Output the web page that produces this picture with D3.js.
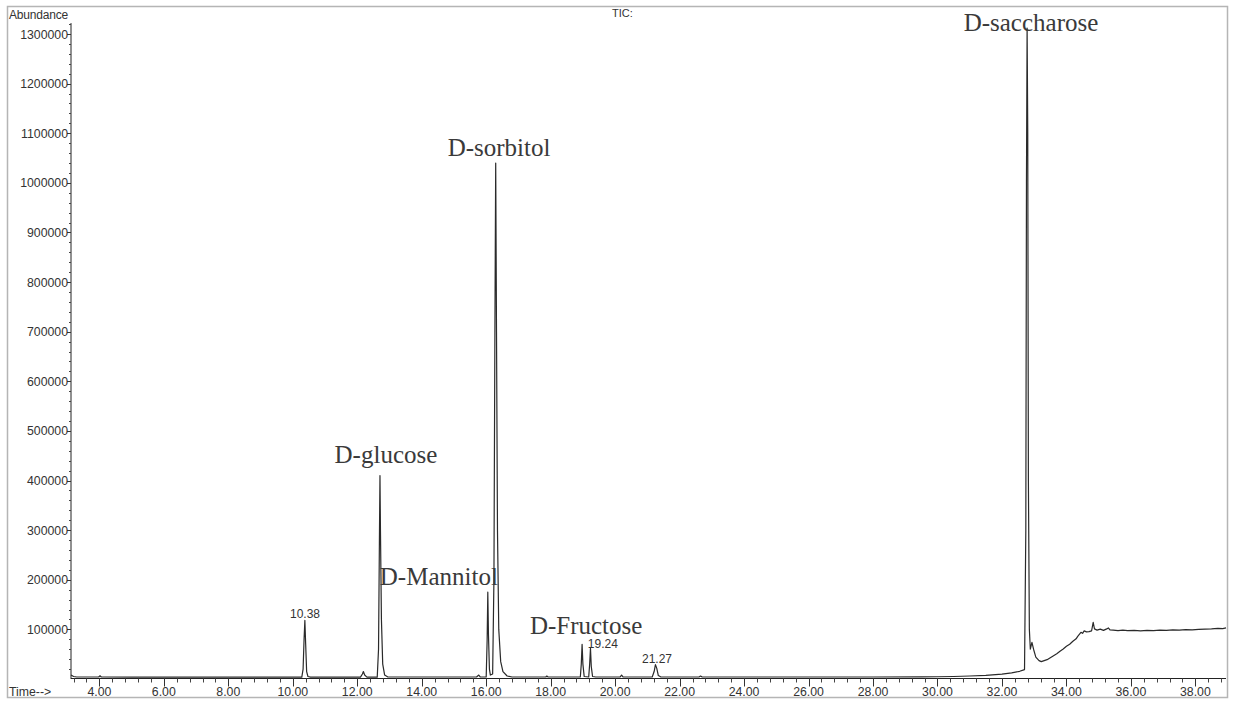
<!DOCTYPE html>
<html>
<head>
<meta charset="utf-8">
<script src="https://cdn.jsdelivr.net/npm/d3@7"></script>
<style>
  html, body { margin: 0; padding: 0; background: #fff; }
  svg { display: block; }
</style>
</head>
<body>
<svg id="chart" width="1235" height="702"></svg>
<script>
// ---- data ----
const times = [
  3.12, 3.2, 3.3, 3.6, 3.98, 4.02, 4.06, 5.0, 6.0, 7.0, 8.0, 9.0, 10.0,
  10.28, 10.32, 10.35, 10.375, 10.40, 10.43, 10.47, 10.55,
  11.5, 12.10, 12.16, 12.19, 12.23, 12.30,
  12.62, 12.66, 12.69, 12.705, 12.72, 12.75, 12.79, 12.85, 12.95,
  14.0, 15.0, 15.70, 15.77, 15.82, 16.00,
  16.03, 16.05, 16.07, 16.10, 16.13, 16.20,
  16.24, 16.27, 16.295, 16.32, 16.35, 16.39, 16.45, 16.52, 16.65, 16.80,
  17.85, 17.88, 17.92,
  18.92, 18.95, 18.975, 19.00, 19.04, 19.18, 19.21, 19.235, 19.26, 19.30, 19.40,
  20.15, 20.20, 20.25,
  21.15, 21.21, 21.25, 21.29, 21.34, 21.42,
  22.60, 22.65, 22.70,
  24.0, 26.0, 28.0, 29.5, 30.0, 30.5, 31.0, 31.5, 32.0, 32.3, 32.55, 32.70,
  32.74, 32.76, 32.78, 32.80, 32.82, 32.85, 32.88, 32.93, 32.98, 33.05, 33.15, 33.22,
  33.4, 33.6, 33.7, 33.8, 33.9, 34.0, 34.1, 34.2, 34.3, 34.35, 34.45, 34.5, 34.55, 34.62, 34.7, 34.78,
  34.83, 34.87, 34.95, 35.05, 35.15, 35.25, 35.30, 35.35, 35.45, 35.6, 35.75,
  35.9, 36.1, 36.3, 36.5, 36.7, 36.9, 37.1, 37.3, 37.5, 37.7, 37.9, 38.1,
  38.3, 38.5, 38.7, 38.85, 38.95
];
const abundances = [
  8000, 5000, 4000, 4000, 4000, 6500, 4000, 3800, 3800, 3800, 3800, 3800, 3800,
  3800, 20000, 80000, 118000, 70000, 15000, 5000, 3800,
  3800, 3800, 10000, 15000, 8000, 3800,
  3800, 60000, 300000, 410000, 300000, 120000, 30000, 8000, 4000,
  4000, 4000, 4000, 8000, 4000, 4000,
  80000, 175000, 90000, 20000, 8000, 10000,
  200000, 700000, 1040000, 700000, 300000, 100000, 35000, 15000, 6000, 4000,
  4000, 6000, 4000,
  4000, 30000, 70000, 30000, 5000, 4000, 30000, 62000, 25000, 5000, 4000,
  4000, 8000, 4000,
  4000, 15000, 29000, 22000, 7000, 4000,
  4000, 6000, 4000,
  4000, 4000, 4000, 4200, 4500, 5000, 6000, 7500, 10000, 12500, 15500, 19000,
  300000, 1000000, 1312000, 1100000, 400000, 100000, 60000, 74000, 60000, 44000, 37000, 35000,
  39000, 47000, 51000, 56000, 60500, 66000, 70000, 76000, 81000, 86000, 94000, 92000, 97000, 95000, 95500, 97000,
  114000, 101000, 98500, 100500, 98000, 101000, 103000, 99000, 98500, 97500, 98500,
  97500, 98000, 97000, 98000, 97500, 98500, 98000, 99000, 98500, 99500, 99000, 100000,
  100500, 101000, 102000, 101500, 103000
];

const yTickValues = [100000, 200000, 300000, 400000, 500000, 600000, 700000,
  800000, 900000, 1000000, 1100000, 1200000, 1300000];
const xTickValues = [4, 6, 8, 10, 12, 14, 16, 18, 20, 22, 24, 26, 28, 30, 32, 34, 36, 38];

// compound annotations: text, retention time, abundance level of text baseline
const compoundNames = ["D-glucose", "D-Mannitol", "D-sorbitol", "D-Fructose", "D-saccharose"];
const compoundTimes = [12.89, 14.53, 16.40, 19.10, 32.90];
const compoundLevels = [436000, 189000, 1054000, 90500, 1306000];

// retention-time annotations
const rtNames = ["10.38", "19.24", "21.27"];
const rtTimes = [10.38, 19.62, 21.30];
const rtLevels = [122000, 62500, 32000];

// ---- drawing ----
const svg = d3.select("#chart");
const x = d3.scaleLinear().domain([3.12, 38.95]).range([71, 1226]);
const y = d3.scaleLinear().domain([0, 1300000]).range([679, 34]);

// frame
svg.append("rect")
  .attr("x", 7.5).attr("y", 6.5).attr("width", 1220).attr("height", 691)
  .attr("fill", "none").attr("stroke", "#b5b5b5").attr("stroke-width", 1.5);

const textColor = "#333";
const sans = "Arial, 'Liberation Sans', sans-serif";
const serif = "'Times New Roman', 'Liberation Serif', serif";

// Y axis
const yTop = y(1322000);
svg.append("line")
  .attr("x1", 71).attr("x2", 71).attr("y1", yTop).attr("y2", 679)
  .attr("stroke", "#222").attr("stroke-width", 1);
const yMinor = d3.range(20000, 1320001, 20000);
svg.append("g").selectAll("line").data(yMinor).join("line")
  .attr("x1", 69).attr("x2", 71)
  .attr("y1", d => Math.round(y(d)) + 0.5).attr("y2", d => Math.round(y(d)) + 0.5)
  .attr("stroke", "#444").attr("stroke-width", 1);
svg.append("g").selectAll("line").data(yTickValues).join("line")
  .attr("x1", 67).attr("x2", 71)
  .attr("y1", d => Math.round(y(d)) + 0.5).attr("y2", d => Math.round(y(d)) + 0.5)
  .attr("stroke", "#333").attr("stroke-width", 1);
svg.append("g").selectAll("text").data(yTickValues).join("text")
  .attr("x", 68).attr("y", d => y(d) + 4.5)
  .attr("text-anchor", "end")
  .attr("font-family", sans).attr("font-size", 12.3).attr("fill", textColor)
  .text(d => d3.format("d")(d));

// X axis
svg.append("line")
  .attr("x1", 71).attr("x2", 1226).attr("y1", 678.5).attr("y2", 678.5)
  .attr("stroke", "#222").attr("stroke-width", 1);
const xMinor = d3.range(8, 98).map(k => k * 0.4).filter(t => t >= 3.12 && t <= 38.95);
svg.append("g").selectAll("line").data(xMinor).join("line")
  .attr("x1", d => Math.round(x(d)) + 0.5).attr("x2", d => Math.round(x(d)) + 0.5)
  .attr("y1", 678.5).attr("y2", 682.5)
  .attr("stroke", "#444").attr("stroke-width", 1);
svg.append("g").selectAll("line").data(xTickValues).join("line")
  .attr("x1", d => Math.round(x(d)) + 0.5).attr("x2", d => Math.round(x(d)) + 0.5)
  .attr("y1", 678.5).attr("y2", 686.5)
  .attr("stroke", "#333").attr("stroke-width", 1);
svg.append("g").selectAll("text").data(xTickValues).join("text")
  .attr("x", d => x(d)).attr("y", 696)
  .attr("text-anchor", "middle")
  .attr("font-family", sans).attr("font-size", 12.3).attr("fill", textColor)
  .text(d => d3.format(".2f")(d));

// static labels
svg.append("text").attr("x", 9).attr("y", 19)
  .attr("font-family", sans).attr("font-size", 12).attr("fill", textColor)
  .attr("letter-spacing", -0.2).text("Abundance");
svg.append("text").attr("x", 612).attr("y", 17)
  .attr("font-family", sans).attr("font-size", 11).attr("fill", textColor)
  .text("TIC:");
svg.append("text").attr("x", 9).attr("y", 696)
  .attr("font-family", sans).attr("font-size", 12.3).attr("fill", textColor)
  .text("Time-->");

// trace
const pts = times.map((t, i) => [t, abundances[i]]);
const line = d3.line().x(d => x(d[0])).y(d => y(d[1]));
svg.append("path").datum(pts)
  .attr("d", line)
  .attr("fill", "none").attr("stroke", "#2a2a2a").attr("stroke-width", 1.2)
  .attr("stroke-linejoin", "round");

// compound labels
svg.append("g").selectAll("text").data(compoundNames).join("text")
  .attr("x", (d, i) => x(compoundTimes[i]))
  .attr("y", (d, i) => y(compoundLevels[i]))
  .attr("text-anchor", "middle")
  .attr("font-family", serif).attr("font-size", 25).attr("fill", "#3a3a3a")
  .text(d => d);

// retention time labels
svg.append("g").selectAll("text").data(rtNames).join("text")
  .attr("x", (d, i) => x(rtTimes[i]))
  .attr("y", (d, i) => y(rtLevels[i]))
  .attr("text-anchor", "middle")
  .attr("font-family", sans).attr("font-size", 12).attr("fill", textColor)
  .text(d => d);
</script>
</body>
</html>
